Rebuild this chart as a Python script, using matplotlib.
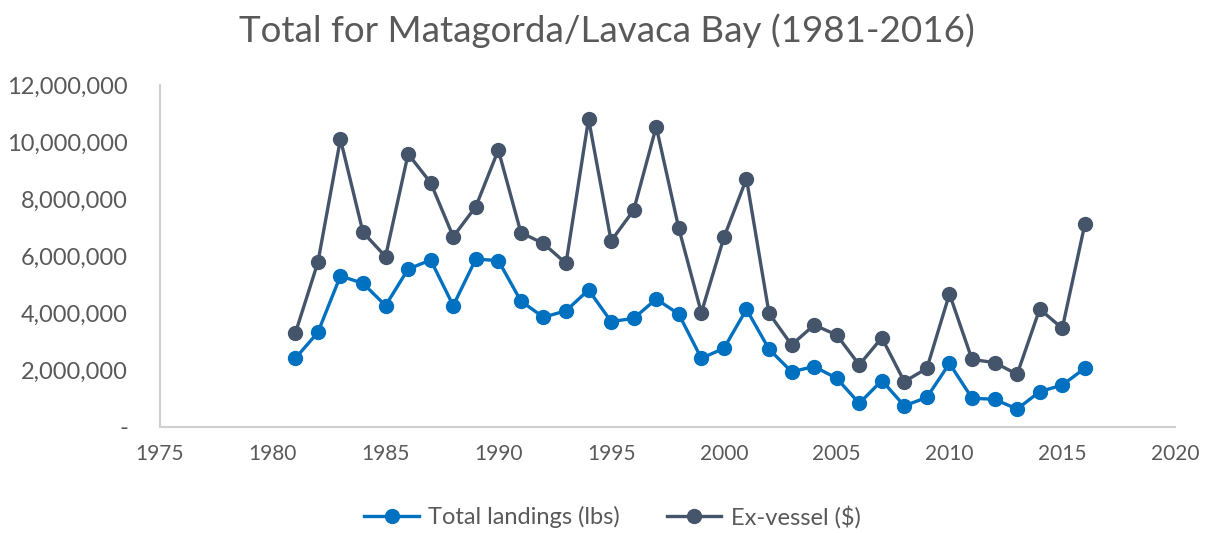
import matplotlib
matplotlib.use("Agg")
import matplotlib.pyplot as plt
from matplotlib.ticker import FuncFormatter

plt.rcParams['font.family'] = ['Lato', 'DejaVu Sans']

years = list(range(1981, 2017))
landings = [2.41, 3.32, 5.30, 5.04, 4.26, 5.54, 5.86, 4.26, 5.89, 5.84,
            4.42, 3.85, 4.08, 4.81, 3.70, 3.81, 4.49, 3.96, 2.41, 2.76,
            4.13, 2.73, 1.94, 2.12, 1.71, 0.83, 1.63, 0.74, 1.04, 2.23,
            1.01, 0.97, 0.63, 1.24, 1.47, 2.06]
exvessel = [3.29, 5.78, 10.10, 6.83, 5.98, 9.58, 8.57, 6.68, 7.73, 9.72,
            6.82, 6.44, 5.74, 10.81, 6.53, 7.61, 10.54, 6.97, 4.01, 6.65,
            8.71, 3.99, 2.88, 3.58, 3.23, 2.18, 3.13, 1.59, 2.06, 4.67,
            2.37, 2.26, 1.85, 4.14, 3.46, 7.11]
landings = [v * 1e6 for v in landings]
exvessel = [v * 1e6 for v in exvessel]

title = "Total for Matagorda/Lavaca Bay (1981-2016)"
series_names = ["Total landings (lbs)", "Ex-vessel ($)"]
xticks = list(range(1975, 2021, 5))
yticks = list(range(0, 12000001, 2000000))

blue = "#0070C0"
dark = "#44546A"
txt = "#595959"

fig = plt.figure(figsize=(12.13, 5.33), dpi=100)
ax = fig.add_axes([0.1319, 0.1989, 0.8368, 0.6416])

ax.plot(years, landings, color=blue, lw=2.4, marker='o', ms=10, label=series_names[0], zorder=3)
ax.plot(years, exvessel, color=dark, lw=2.4, marker='o', ms=10, label=series_names[1], zorder=3)

ax.set_xlim(1975, 2020)
ax.set_ylim(0, 12000000)
ax.set_xticks(xticks)
ax.set_yticks(yticks)
ax.yaxis.set_major_formatter(FuncFormatter(lambda v, p: "-" if v == 0 else f"{int(v):,}"))

for s in ['top', 'right']:
    ax.spines[s].set_visible(False)
for s in ['left', 'bottom']:
    ax.spines[s].set_color("#D0D0D0")
    ax.spines[s].set_linewidth(1.5)
ax.tick_params(axis='both', length=0, colors=txt)
ax.tick_params(axis='x', pad=12, labelsize=15)
ax.tick_params(axis='y', pad=23, labelsize=17)

fig.suptitle(title, fontsize=26.5, color=txt, y=0.975)

fig.legend(loc='center', bbox_to_anchor=(0.505, 0.03), ncol=2, frameon=False,
           fontsize=17, labelcolor=txt, handlelength=2.3, columnspacing=2.0,
           handletextpad=0.4)

fig.savefig("out.png", dpi=100)
